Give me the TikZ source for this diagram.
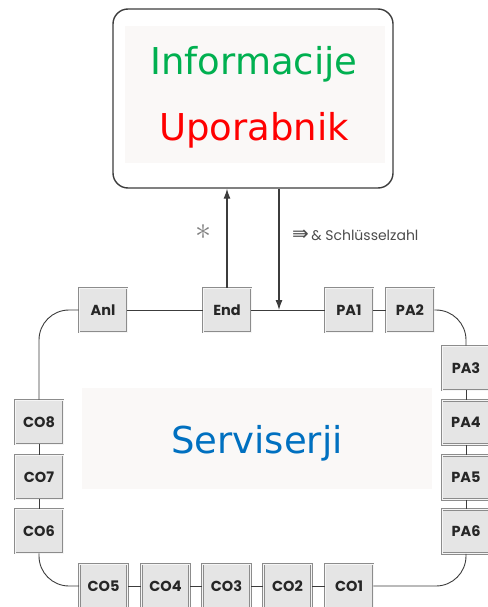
\documentclass[tikz,border=0pt]{standalone}
\usepackage{fontspec}
\setmainfont{DejaVu Sans}
\newfontfamily\boxfont{Poppins}
\usepackage{tikz}
\usetikzlibrary{arrows.meta, calc}
\definecolor{infogreen}{RGB}{0,176,80}
\definecolor{userred}{RGB}{255,0,0}
\definecolor{serviceblue}{RGB}{0,112,192}
\definecolor{linegray}{RGB}{60,60,60}
\definecolor{panelwhite}{RGB}{250,248,247}

\begin{document}
\begin{tikzpicture}[x=1pt, y=-1pt,
    unitbox/.style={draw=black!45, double=black!4, double distance=0.9pt, line width=0.6pt, fill=black!10,
        minimum width=48pt, minimum height=44pt, inner sep=0pt, text=black!85,
        font=\boxfont\bfseries\fontsize{14.5}{15}\selectfont},
    ringline/.style={draw=linegray, line width=0.9pt, rounded corners=30pt},
    bigtext/.style={font=\fontsize{37}{37}\selectfont, anchor=base}]
    \useasboundingbox (0,0) rectangle (487,607);

    % user panel
    \fill[panelwhite] (125,26) rectangle (385,163);
    \node[draw=linegray, line width=1.4pt, rounded corners=15pt, minimum width=280pt, minimum height=179pt] (userbox) at (253,98.5) {};
    \node[bigtext, text=infogreen] (info) at (254,75) {Informacije};
    \node[bigtext, text=userred] (user) at (254,140) {Uporabnik};

    % service panel
    \fill[panelwhite] (82,388) rectangle (432,489);
    \node[bigtext, text=serviceblue] (service) at (257,453) {Serviserji};

    % ring units
    \node[unitbox] (Anl) at (103,310) {Anl};
    \node[unitbox] (End) at (227,310) {End};
    \node[unitbox] (PA1) at (349,310) {PA1};
    \node[unitbox] (PA2) at (410,310) {PA2};
    \node[unitbox] (PA3) at (466,368) {PA3};
    \node[unitbox] (PA4) at (466,422.5) {PA4};
    \node[unitbox] (PA5) at (466,477.5) {PA5};
    \node[unitbox] (PA6) at (466,531.5) {PA6};
    \node[unitbox] (CO1) at (349,586) {CO1};
    \node[unitbox] (CO2) at (287.5,586) {CO2};
    \node[unitbox] (CO3) at (226.5,586) {CO3};
    \node[unitbox] (CO4) at (165.5,586) {CO4};
    \node[unitbox] (CO5) at (103.5,586) {CO5};
    \node[unitbox] (CO6) at (39,531) {CO6};
    \node[unitbox] (CO7) at (39,477) {CO7};
    \node[unitbox] (CO8) at (39,422) {CO8};

    % ring line
    \draw[ringline] (Anl.east) -- (End.west) (End.east) -- (PA1.west) (PA1.east) -- (PA2.west);
    \draw[ringline] (PA2.east) -| (PA3.north);
    \draw[ringline] (PA3.south) -- (PA4.north) (PA4.south) -- (PA5.north) (PA5.south) -- (PA6.north);
    \draw[ringline] (PA6.south) |- (CO1.east);
    \draw[ringline] (CO1.west) -- (CO2.east) (CO2.west) -- (CO3.east) (CO3.west) -- (CO4.east) (CO4.west) -- (CO5.east);
    \draw[ringline] (CO5.west) -| (CO6.south);
    \draw[ringline] (CO6.north) -- (CO7.south) (CO7.north) -- (CO8.south);
    \draw[ringline] (CO8.north) |- (Anl.west);

    % arrows to and from the user
    \coordinate (tap) at (279,310);
    \draw[-{Latex[length=10pt,width=7pt]}, line width=1.1pt, linegray] (End.north) -- (End.north |- userbox.south);
    \draw[-{Latex[length=10pt,width=7pt]}, line width=1.1pt, linegray] (tap |- userbox.south) -- (tap);
    \node[text=black!50, inner sep=0pt] (star) at (203,232) {\scalebox{3.2}{$\ast$}};
    \node[anchor=base west, text=black!70, font=\fontsize{14}{14}\selectfont, inner sep=0pt] (keylabel) at (292,240)
        {{\fontsize{20}{20}\selectfont ⇛}\,{\boxfont\& Schlüsselzahl}};
\end{tikzpicture}
\end{document}
